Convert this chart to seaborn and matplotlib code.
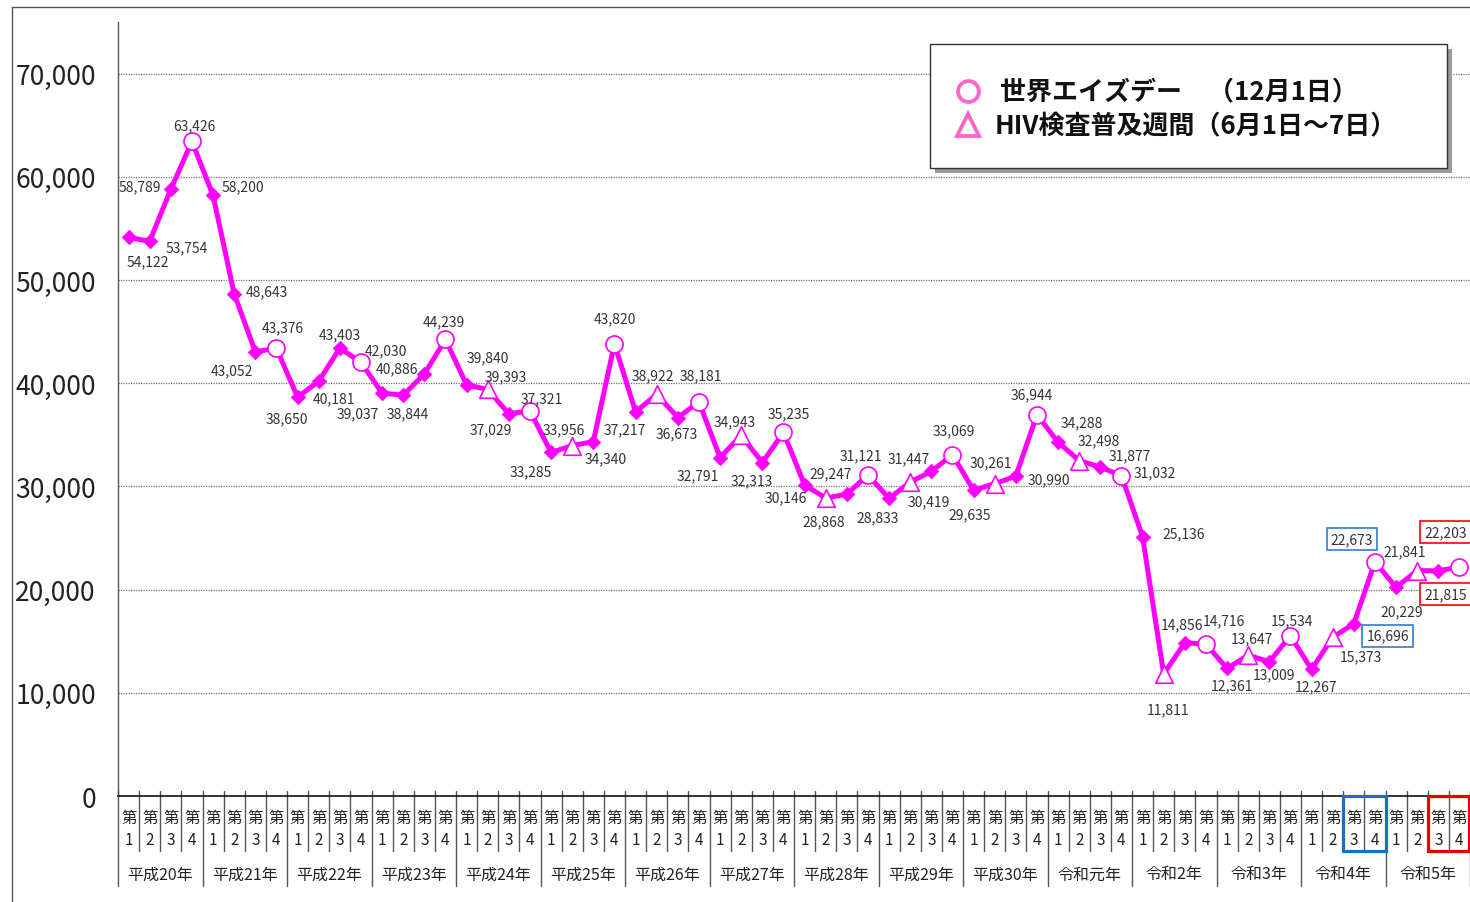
import numpy as np
import pandas as pd
import matplotlib
matplotlib.use("Agg")
import matplotlib.pyplot as plt
import seaborn as sns
from matplotlib.patches import Rectangle
from matplotlib.lines import Line2D
from matplotlib.transforms import blended_transform_factory

# ---------------- data ----------------
years = ["平成20年", "平成21年", "平成22年", "平成23年", "平成24年", "平成25年",
         "平成26年", "平成27年", "平成28年", "平成29年", "平成30年", "令和元年",
         "令和2年", "令和3年", "令和4年", "令和5年"]
quarters = ["1", "2", "3", "4"]
values = [54122, 53754, 58789, 63426,
          58200, 48643, 43052, 43376,
          38650, 40181, 43403, 42030,
          39037, 38844, 40886, 44239,
          39840, 39393, 37029, 37321,
          33285, 33956, 34340, 43820,
          37217, 38922, 36673, 38181,
          32791, 34943, 32313, 35235,
          30146, 28868, 29247, 31121,
          28833, 30419, 31447, 33069,
          29635, 30261, 30990, 36944,
          34288, 32498, 31877, 31032,
          25136, 11811, 14856, 14716,
          12361, 13647, 13009, 15534,
          12267, 15373, 16696, 22673,
          20229, 21841, 21815, 22203]
yticks = [0, 10000, 20000, 30000, 40000, 50000, 60000, 70000]
legend_texts = ["世界エイズデー　（12月1日）", "HIV検査普及週間（6月1日～7日）"]

# label offsets in image pixels (dx right, dy down)
label_offsets = [(19, 24), (37, 6), (-31, -3), (2, -16),
                 (30, -9), (33, -3), (-23, 19), (6, -21),
                 (-11, 21), (15, 17), (0, -14), (25, -12),
                 (-24, 20), (5, 18), (-27, -6), (-2, -18),
                 (21, -28), (18, -13), (-18, 15), (12, -13),
                 (-20, 19), (-8, -16), (12, 17), (0, -25),
                 (-11, 17), (-4, -19), (-1, 16), (2, -27),
                 (-22, 18), (-7, -14), (-11, 18), (5, -19),
                 (-19, 12), (-2, 23), (-16, -21), (-7, -20),
                 (-11, 19), (19, 19), (-23, -13), (1, -24),
                 (-4, 24), (-4, -21), (33, 3), (-5, -20),
                 (24, -20), (20, -20), (29, -12), (33, -3),
                 (41, -3), (4, 35), (-3, -18), (18, -24),
                 (5, 17), (4, -17), (5, 13), (2, -15),
                 (4, 17), (28, 19), (34, 12), (-23, -23),
                 (6, 24), (-13, -19), (7, 23), (-14, -35)]
boxed_blue = [58, 59]
boxed_red = [62, 63]

# ---------------- style ----------------
sns.set_theme(style="white")
plt.rcParams["font.family"] = ["Noto Sans CJK JP", "DejaVu Sans"]

W, H = 1470, 903
fig = plt.figure(figsize=(W / 100, H / 100), dpi=100)
ax_left, ax_bottom_px, ax_top_px = 118, 797, 23
ax = fig.add_axes([ax_left / W, 1 - ax_bottom_px / H, 1 - ax_left / W,
                   (ax_bottom_px - ax_top_px) / H])

n = len(values)
idx = np.arange(n)
kinds = []
for i in range(n):
    q = i % 4
    if q == 3:
        kinds.append("circle")
    elif q == 1 and i >= 17:
        kinds.append("triangle")
    else:
        kinds.append("diamond")
df = pd.DataFrame({"idx": idx, "value": values, "kind": kinds})

MAG = "#ff00ff"
sns.lineplot(data=df, x="idx", y="value", color=MAG, linewidth=3.6, ax=ax,
             zorder=2, legend=False)
d = df[df.kind == "diamond"]
sns.scatterplot(data=d, x="idx", y="value", marker="D", s=55, color=MAG,
                edgecolor=MAG, linewidth=0.5, ax=ax, zorder=3, legend=False)
c = df[df.kind == "circle"]
sns.scatterplot(data=c, x="idx", y="value", marker="o", s=150, color="white",
                edgecolor=MAG, linewidth=1.2, ax=ax, zorder=4, legend=False)
t = df[df.kind == "triangle"]
sns.scatterplot(data=t, x="idx", y="value", marker="^", s=160, color="white",
                edgecolor=MAG, linewidth=1.2, ax=ax, zorder=4, legend=False)

ax.set_xlim(-0.5, n - 0.5)
ax.set_ylim(0, 75000)
ax.set_yticks(yticks)
ax.set_yticklabels([f"{v:,}" for v in yticks], fontsize=19, color="#222")
ax.tick_params(axis="y", length=0, pad=16)
ax.set_xticks([])
ax.set_xlabel("")
ax.set_ylabel("")
for v in yticks[1:]:
    ax.axhline(v, color="#777", lw=0.9, ls=(0, (1, 1)), zorder=1)
for s in ["top", "right"]:
    ax.spines[s].set_visible(False)
ax.spines["left"].set_color("#555")
ax.spines["left"].set_linewidth(1.0)
ax.spines["bottom"].set_color("#111")
ax.spines["bottom"].set_linewidth(1.2)

# data labels
for i, v in enumerate(values):
    dx, dy = label_offsets[i]
    kw = {}
    if i in boxed_blue:
        kw["bbox"] = dict(boxstyle="square,pad=0.3", fc="white", ec="#2f7fc8", lw=1.2)
    elif i in boxed_red:
        kw["bbox"] = dict(boxstyle="square,pad=0.3", fc="white", ec="#ff0000", lw=1.2)
    ax.annotate(f"{v:,}", (i, v), xytext=(dx, -dy), textcoords="offset pixels",
                ha="center", va="center", fontsize=10, color="#333",
                zorder=6, annotation_clip=False, **kw)

# x category labels
tr = blended_transform_factory(ax.transData, ax.transAxes)
axh = ax_bottom_px - ax_top_px
def fy(ypx):
    return (ax_bottom_px - ypx) / axh

for i in range(n):
    ax.text(i, fy(818), "第", transform=tr, ha="center", va="center",
            fontsize=11, color="#222", clip_on=False)
    ax.text(i, fy(841), quarters[i % 4], transform=tr, ha="center", va="center",
            fontsize=11, color="#222", clip_on=False)
for k in range(n + 1):
    x = k - 0.5
    ybot = fy(887) if k % 4 == 0 else fy(852)
    ax.plot([x, x], [fy(792), ybot], transform=tr, color="#555", lw=1.0,
            clip_on=False, zorder=1)
for j, y in enumerate(years):
    ax.text(j * 4 + 1.5, fy(875), y, transform=tr, ha="center", va="center",
            fontsize=11.5, color="#222", clip_on=False)

# highlight boxes on quarter labels
for (a, b), col in [((57.5, 59.5), "#1a6fc4"), ((61.5, 63.5), "#ee0000")]:
    ax.add_patch(Rectangle((a, fy(852)), b - a - (0.05 if b == n - 0.5 else 0),
                           fy(797) - fy(852), transform=tr, fill=False,
                           ec=col, lw=2.3, clip_on=False, zorder=5))

# outer frame
fig.add_artist(Line2D([12 / W, 12 / W], [1 - 8 / H, 0], transform=fig.transFigure,
                      color="#555", lw=1.0))
fig.add_artist(Line2D([12 / W, 1], [1 - 8 / H, 1 - 8 / H], transform=fig.transFigure,
                      color="#555", lw=1.0))

# legend box
bx0, by0, bx1, by1 = 930, 45, 1447, 169
fig.add_artist(Rectangle(((bx0 + 5) / W, 1 - (by1 + 5) / H), (bx1 - bx0) / W,
                         (by1 - by0) / H, transform=fig.transFigure,
                         fc="#9a9a9a", ec="none", zorder=8))
fig.add_artist(Rectangle((bx0 / W, 1 - by1 / H), (bx1 - bx0) / W, (by1 - by0) / H,
                         transform=fig.transFigure, fc="white", ec="#333",
                         lw=1.0, zorder=9))
PINK = "#ff66cc"
fig.add_artist(Line2D([968 / W], [1 - 92 / H], transform=fig.transFigure,
                      marker="o", ms=15, mfc="white", mec=PINK, mew=2.8,
                      ls="none", zorder=10))
fig.add_artist(Line2D([968 / W], [1 - 126 / H], transform=fig.transFigure,
                      marker="^", ms=16, mfc="white", mec=PINK, mew=2.8,
                      ls="none", zorder=10))
fig.text(1000 / W, 1 - 92 / H, legend_texts[0], ha="left", va="center",
         fontsize=18.7, fontweight="bold", color="#111", zorder=10)
fig.text(995 / W, 1 - 126 / H, legend_texts[1], ha="left", va="center",
         fontsize=18.7, fontweight="bold", color="#111", zorder=10)

fig.savefig("out.png", dpi=100)
